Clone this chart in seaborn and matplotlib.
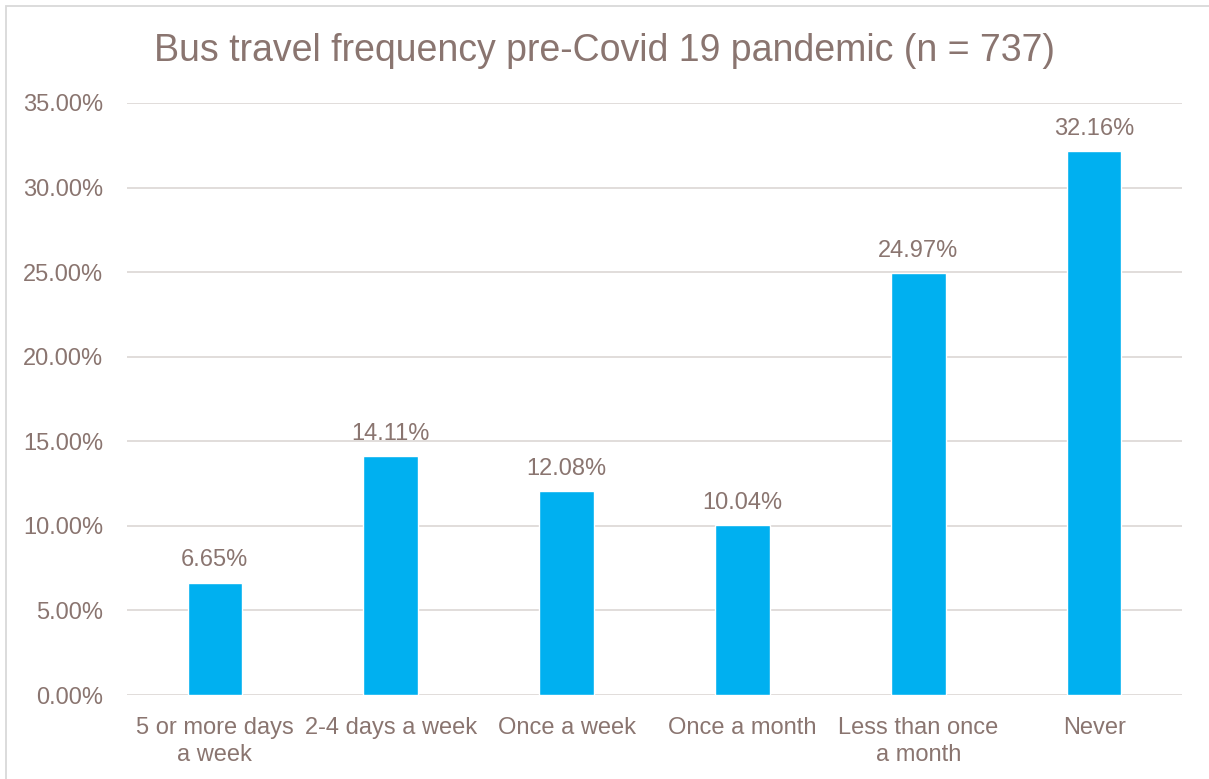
import matplotlib
matplotlib.use("Agg")
import matplotlib.pyplot as plt
import matplotlib.patches as mpatches
import pandas as pd
import seaborn as sns

categories = ["5 or more days\na week", "2-4 days a week", "Once a week",
              "Once a month", "Less than once\na month", "Never"]
shares = [6.65, 14.11, 12.08, 10.04, 24.97, 32.16]

df = pd.DataFrame({"freq": categories, "share": shares})

text_col = "#8a7570"
grid_col = "#dedad8"
bar_col = "#00b0f0"

sns.set_theme(style="white")
plt.rcParams["font.family"] = ["Liberation Sans", "DejaVu Sans"]

fig = plt.figure(figsize=(12.09, 7.79), dpi=100)
ax = fig.add_axes([0.105, 0.1078, 0.8727, 0.76])

sns.barplot(data=df, x="freq", y="share", color=bar_col, width=0.31,
            saturation=1, ax=ax, zorder=3)

ax.set_ylim(0, 35)
ax.set_xlim(-0.5, 5.5)
ax.set_yticks([0, 5, 10, 15, 20, 25, 30, 35])
ax.set_yticklabels([f"{v:.2f}%" for v in ax.get_yticks()])
ax.grid(axis="y", color=grid_col, linewidth=1.3, zorder=0)
ax.grid(axis="x", visible=False)
for s in ax.spines.values():
    s.set_visible(False)
ax.tick_params(axis="both", length=0, labelsize=17, colors=text_col)
ax.tick_params(axis="y", pad=17)
ax.tick_params(axis="x", pad=16)
for lab in ax.get_xticklabels():
    lab.set_linespacing(1.3)
ax.set_xlabel("")
ax.set_ylabel("")

for c in ax.containers:
    ax.bar_label(c, labels=[f"{v:.2f}%" for v in shares], padding=8,
                 fontsize=17, color=text_col)

fig.text(0.5, 0.935, "Bus travel frequency pre-Covid 19 pandemic (n = 737)",
         ha="center", va="center", fontsize=27, color=text_col)

fig.patches.append(mpatches.Rectangle((6 / 1209, -0.02), 1.0, 1 - 6 / 779 + 0.02,
                                      transform=fig.transFigure, fill=False,
                                      edgecolor="#d9d9d9", linewidth=1.3))

fig.savefig("out.png", dpi=100)
